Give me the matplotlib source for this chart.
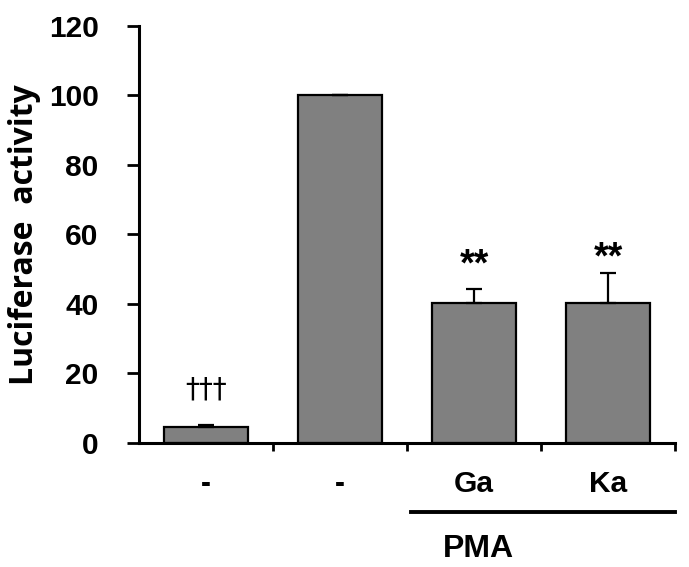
import matplotlib
matplotlib.use("Agg")
import matplotlib.pyplot as plt
import matplotlib.transforms as mtransforms

plt.rcParams["font.family"] = ["Liberation Sans", "DejaVu Sans"]
plt.rcParams["font.weight"] = "bold"

# ── data ────────────────────────────────────────────────
categories = ["-", "-", "Ga", "Ka"]
values     = [4.5, 100, 40.2, 40.2]
errors     = [0.6, 0, 4.1, 8.7]
marks      = ["\u2020\u2020\u2020", "", "**", "**"]
mark_y     = [15.5, None, 51, 53]
y_ticks    = [0, 20, 40, 60, 80, 100, 120]

# ── figure ──────────────────────────────────────────────
fig = plt.figure(figsize=(6.89, 5.67), dpi=100)
ax = fig.add_axes([0.2017, 0.2187, 0.778, 0.7355])

x = list(range(len(categories)))
ax.bar(x, values, width=0.62, color="#808080", edgecolor="black", linewidth=1.6, zorder=2)
ax.errorbar(x, values, yerr=[[0] * len(errors), errors], fmt="none",
            ecolor="black", elinewidth=1.6, capsize=6, capthick=1.6, zorder=3)

for xi, m, my in zip(x, marks, mark_y):
    if m == "**":
        ax.text(xi, my, m, ha="center", va="center", fontsize=27, fontweight="bold")
    elif m:
        ax.text(xi, my, m, ha="center", va="center", fontsize=20, fontweight="normal",
                family=["DejaVu Sans"])

ax.set_xlim(-0.5, 3.5)
ax.set_ylim(0, 120)
ax.set_yticks(y_ticks)
ax.set_yticklabels([str(t) for t in y_ticks], fontsize=21.5, fontweight="bold")
ax.tick_params(axis="y", direction="out", length=9, width=2, pad=20)

# category boundary ticks
ax.set_xticks([0.5, 1.5, 2.5, 3.5])
ax.set_xticklabels([])
ax.tick_params(axis="x", direction="out", length=6, width=2)

for s in ["top", "right"]:
    ax.spines[s].set_visible(False)
for s in ["left", "bottom"]:
    ax.spines[s].set_linewidth(2.2)

ax.set_ylabel("Luciferase  activity", fontsize=23, fontweight="bold",
              family=["Open Sans", "DejaVu Sans"])
ax.yaxis.set_label_coords(-0.182, 0.5)

# category labels and PMA bracket below the axis
trans = mtransforms.blended_transform_factory(ax.transData, fig.transFigure)
for xi, c in zip(x, categories):
    ax.text(xi, 1 - 484 / 567, c, transform=trans, ha="center", va="center",
            fontsize=21.5, fontweight="bold")
ax.plot([1.53, 3.5], [1 - 512 / 567] * 2, transform=trans, color="black",
        linewidth=2.8, clip_on=False)
ax.text(2.03, 1 - 549 / 567, "PMA", transform=trans, ha="center", va="center",
        fontsize=23, fontweight="bold")

fig.savefig("out.png", dpi=100)
